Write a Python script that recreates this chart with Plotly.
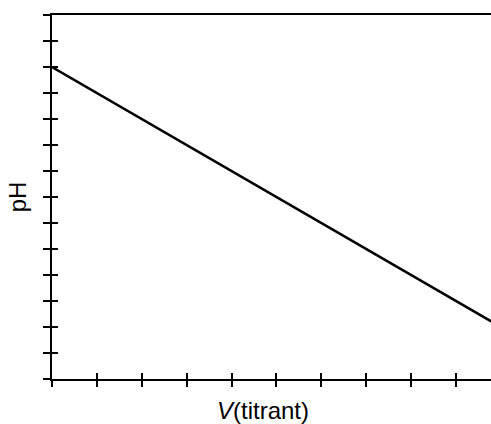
import plotly.graph_objects as go

# Data
v_titrant = [0, 10]
ph_values = [12, 2]
x_ticks = list(range(0, 11))
y_ticks = list(range(0, 15))

fig = go.Figure()
fig.add_trace(go.Scatter(x=v_titrant, y=ph_values, mode="lines",
                         line=dict(color="black", width=2.5), showlegend=False,
                         hoverinfo="skip"))
# invisible trace for overlay axes
fig.add_trace(go.Scatter(x=[0], y=[0], xaxis="x2", yaxis="y2", mode="markers",
                         marker=dict(opacity=0), showlegend=False, hoverinfo="skip"))

font = dict(family="Liberation Sans, Arial, sans-serif", size=24, color="black")

fig.update_layout(
    width=491, height=424,
    margin=dict(l=52, r=0, t=15, b=45),
    paper_bgcolor="white", plot_bgcolor="white",
    xaxis=dict(range=[0, 9.78], tickvals=x_ticks, showticklabels=False,
               ticks="outside", ticklen=6, tickwidth=1.5, tickcolor="black",
               showgrid=False, zeroline=False, showline=True, linecolor="black",
               linewidth=2, mirror=True),
    yaxis=dict(range=[0, 14], tickvals=y_ticks, showticklabels=False,
               ticks="outside", ticklen=7, tickwidth=1.5, tickcolor="black",
               showgrid=False, zeroline=False, showline=True, linecolor="black",
               linewidth=2,
               title=dict(text="pH", font=font, standoff=10)),
    xaxis2=dict(overlaying="x", matches="x", range=[0, 9.78], tickvals=x_ticks,
                showticklabels=False, ticks="inside", ticklen=6, tickwidth=1.5,
                tickcolor="black", showgrid=False, zeroline=False, showline=False),
    yaxis2=dict(overlaying="y", matches="y", range=[0, 14], tickvals=y_ticks,
                showticklabels=False, ticks="inside", ticklen=6, tickwidth=1.5,
                tickcolor="black", showgrid=False, zeroline=False, showline=False),
    annotations=[dict(text="<i>V</i>(titrant)", xref="paper", yref="paper",
                      x=0.4806, y=-0.0852, xanchor="center", yanchor="middle",
                      showarrow=False, font=font, borderpad=0)],
)

fig.write_html("out.html", config={"displayModeBar": False},
               post_script="document.body.style.margin='0';document.body.style.overflow='hidden';")
